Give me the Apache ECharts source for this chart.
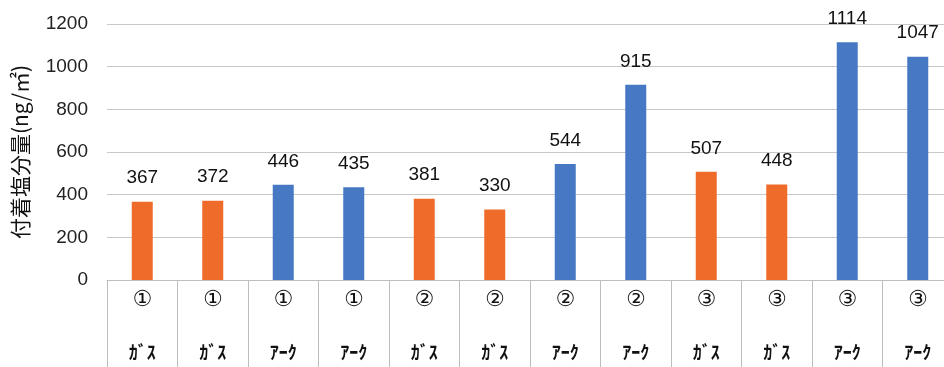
<!DOCTYPE html>
<html><head><meta charset="utf-8">
<script src="https://cdn.jsdelivr.net/npm/echarts@6/dist/echarts.min.js"></script>
<style>html,body{margin:0;padding:0;background:#fff}#c{width:944px;height:367px}</style>
</head><body><div id="c"></div>
<script>
const groups = ['①','①','①','①','②','②','②','②','③','③','③','③'];
const methods = ['ｶﾞｽ','ｶﾞｽ','ｱｰｸ','ｱｰｸ','ｶﾞｽ','ｶﾞｽ','ｱｰｸ','ｱｰｸ','ｶﾞｽ','ｶﾞｽ','ｱｰｸ','ｱｰｸ'];
const values = [367,372,446,435,381,330,544,915,507,448,1114,1047];
const yTicks = [0,200,400,600,800,1000,1200];
const yName = '付着塩分量(ng/㎡)';
const colorByMethod = {'ｶﾞｽ':'#EF6B2A','ｱｰｸ':'#4678C4'};

const categories = groups.map((g,i)=>g+'\n'+methods[i]);
const chart = echarts.init(document.getElementById('c'));
chart.setOption({
  animation:false,
  grid:{left:107,right:-9,top:24,bottom:87,outerBoundsMode:'none',containLabel:false},
  xAxis:{type:'category',data:categories,boundaryGap:true,
    axisLine:{show:true,lineStyle:{color:'#bdbdbd',width:1}},
    axisTick:{show:true,length:90,interval:0,lineStyle:{color:'#bdbdbd'}},
    axisLabel:{interval:0,margin:-6,
      formatter:(v)=>{const p=v.split('\n');return '{a|'+p[0]+'}\n{b|'+p[1]+'}';},
      rich:{
        a:{fontSize:22,lineHeight:52,color:'#111',fontFamily:'DejaVu Sans'},
        b:{fontSize:18,lineHeight:52,color:'#111',fontWeight:'bold',fontFamily:'Noto Sans CJK JP'}
      }}
  },
  yAxis:{type:'value',min:yTicks[0],max:yTicks[yTicks.length-1],interval:200,
    name:yName,nameLocation:'middle',nameGap:76,nameRotate:90,
    nameTextStyle:{fontSize:21,color:'#111',fontFamily:'Noto Sans CJK JP'},
    axisLine:{show:false},axisTick:{show:false},
    axisLabel:{margin:19,fontSize:19,color:'#222',fontFamily:'Liberation Sans',formatter:(v)=>String(v)},
    splitLine:{lineStyle:{color:'#c8c8c8',width:1}}
  },
  series:[{type:'bar',barWidth:21,
    data:values.map((v,i)=>({value:v,itemStyle:{color:colorByMethod[methods[i]]}})),
    label:{show:true,position:'top',distance:14,fontSize:19,color:'#111',fontFamily:'Liberation Sans'}
  }]
});
</script></body></html>
